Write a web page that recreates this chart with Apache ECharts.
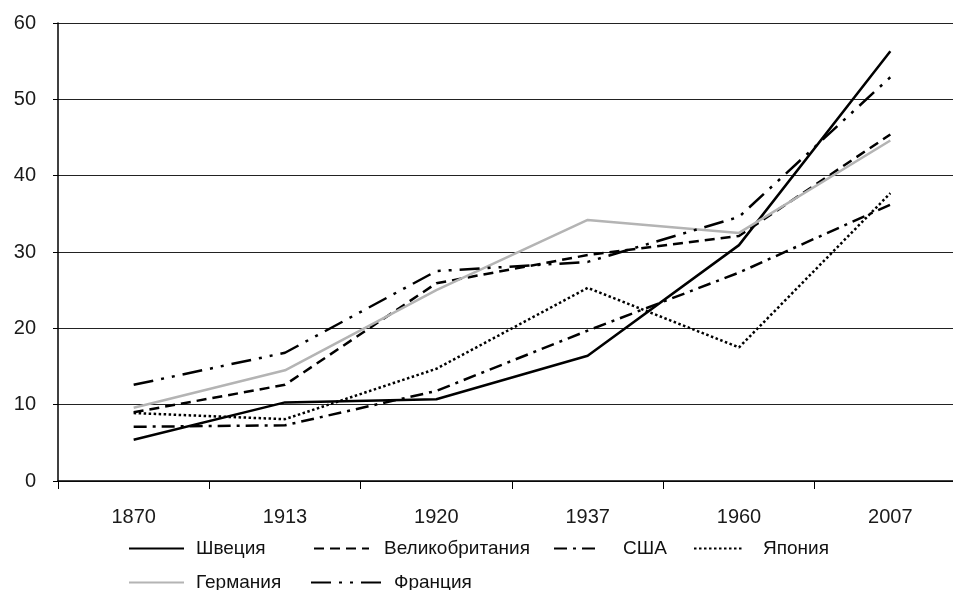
<!DOCTYPE html>
<html>
<head>
<meta charset="utf-8">
<script src="https://cdn.jsdelivr.net/npm/echarts@6/dist/echarts.min.js"></script>
<style>html,body{margin:0;padding:0;background:#fff;overflow:hidden}#c{width:970px;height:590px}</style>
</head>
<body>
<div id="c"></div>
<script>
const categories = ['1870', '1913', '1920', '1937', '1960', '2007'];
const sweden  = [5.4, 10.3, 10.7, 16.4, 30.9, 56.3];
const uk      = [9.0, 12.6, 25.9, 29.6, 32.1, 45.4];
const usa     = [7.1, 7.3, 11.8, 19.7, 27.3, 36.2];
const japan   = [8.9, 8.1, 14.7, 25.3, 17.5, 37.7];
const germany = [9.6, 14.5, 25.0, 34.2, 32.5, 44.6];
const france  = [12.6, 16.8, 27.5, 28.7, 34.6, 52.9];
const yTicks = [0, 10, 20, 30, 40, 50, 60];

const font = 'Liberation Sans, Arial, sans-serif';
const chart = echarts.init(document.getElementById('c'));

function mk(name, data, color, type, width) {
  return {
    name: name, type: 'line', data: data, symbol: 'none',
    lineStyle: { color: color, width: width || 2.5, type: type },
    itemStyle: { color: color },
    emphasis: { disabled: true }, animation: false
  };
}
function lg(name, left, top, w, pad) {
  return {
    data: [name], left: left, top: top, itemWidth: w, itemHeight: 14,
    padding: 0, selectedMode: false,
    itemStyle: { color: 'rgba(0,0,0,0)', borderWidth: 0, opacity: 0 },
    textStyle: { fontFamily: font, fontSize: 19, color: '#111', padding: [0, 0, 0, pad] }
  };
}

chart.setOption({
  animation: false,
  grid: { left: 58, top: 23, right: 4, bottom: 109, containLabel: false },
  xAxis: {
    type: 'category', data: categories, boundaryGap: true,
    axisLine: { lineStyle: { color: '#000', width: 1.5 } },
    axisTick: { show: true, length: 8, alignWithLabel: false, lineStyle: { color: '#000' } },
    axisLabel: { fontFamily: font, fontSize: 20, color: '#1a1a1a', margin: 26 },
    splitLine: { show: false }
  },
  yAxis: {
    type: 'value', min: yTicks[0], max: yTicks[yTicks.length - 1], interval: 10,
    axisLine: { show: true, lineStyle: { color: '#000', width: 1.5 } },
    axisTick: { show: true, length: 5, inside: false, lineStyle: { color: '#000' } },
    axisLabel: { fontFamily: font, fontSize: 20, color: '#1a1a1a', margin: 22 },
    splitLine: { show: true, lineStyle: { color: '#222', width: 1.2 } }
  },
  legend: [
    lg('Швеция', 128, 539, 55, 7),
    lg('Великобритания', 313, 539, 55, 10),
    lg('США', 553, 539, 45, 19),
    lg('Япония', 693, 539, 50, 14),
    lg('Германия', 128, 573, 55, 7),
    lg('Франция', 310, 573, 78, 0)
  ],
  series: [
    mk('Швеция', sweden, '#000', 'solid', 2.5),
    mk('Великобритания', uk, '#000', [10, 6], 2.5),
    mk('США', usa, '#000', [13, 6, 3, 6], 2.5),
    mk('Япония', japan, '#000', [2.5, 2.5], 2.5),
    mk('Германия', germany, '#b4b4b4', 'solid', 2.5),
    mk('Франция', france, '#000', [20, 8, 3, 8, 3, 8], 2.5)
  ]
});
</script>
</body>
</html>
